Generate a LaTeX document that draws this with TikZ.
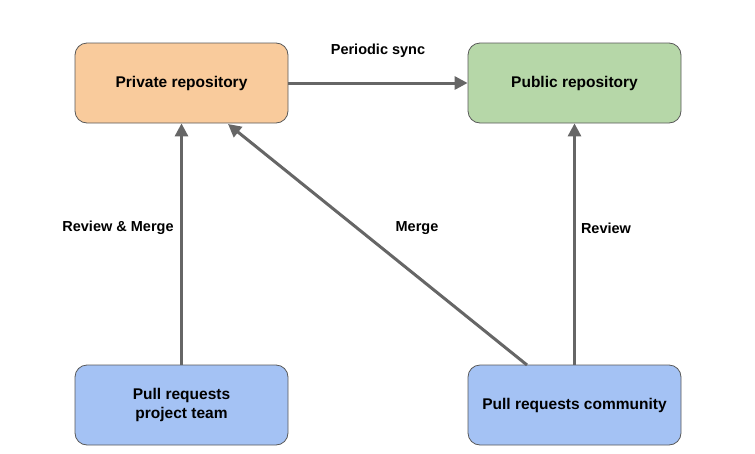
\documentclass[tikz,border=0pt]{standalone}
\usepackage{fontspec}
\setmainfont{Liberation Sans}
\usetikzlibrary{arrows.meta}
\definecolor{orangefill}{HTML}{F9CB9C}
\definecolor{greenfill}{HTML}{B6D7A8}
\definecolor{bluefill}{HTML}{A4C2F4}
\definecolor{edgegray}{HTML}{666666}
\definecolor{bordergray}{HTML}{595959}
\begin{document}
\begin{tikzpicture}[x=1pt,y=-1pt,
  box/.style={draw=bordergray, line width=0.8pt, rounded corners=12pt, minimum width=213pt, minimum height=80pt, align=center, font=\fontsize{15.5}{19}\selectfont\bfseries, inner sep=0pt},
  conn/.style={draw=edgegray, line width=3pt, -{Triangle[length=13pt,width=13pt]}},
  lbl/.style={font=\fontsize{14.5}{17}\selectfont\bfseries}]
\useasboundingbox (0,0) rectangle (755,453);
\node[box, fill=orangefill] (priv) at (181.5,83) {Private repository};
\node[box, fill=greenfill] (pub) at (574.5,83) {Public repository};
\node[box, fill=bluefill] (team) at (181.5,405) {Pull requests\\project team};
\node[box, fill=bluefill] (comm) at (574.5,405) {Pull requests community};
\draw[conn] (priv.east) -- (pub.west);
\draw[conn] (team.north) -- (priv.south);
\draw[conn] (comm.north) -- (pub.south);
\coordinate (cs) at (527,365);
\coordinate (ce) at (228,124);
\draw[conn] (cs) -- (ce);
\node[lbl] (l1) at (378,51) {Periodic sync};
\node[lbl] (l2) at (118,228) {Review \& Merge};
\node[lbl] (l3) at (417,228) {Merge};
\node[lbl] (l4) at (606,228) {Review};
\end{tikzpicture}
\end{document}
